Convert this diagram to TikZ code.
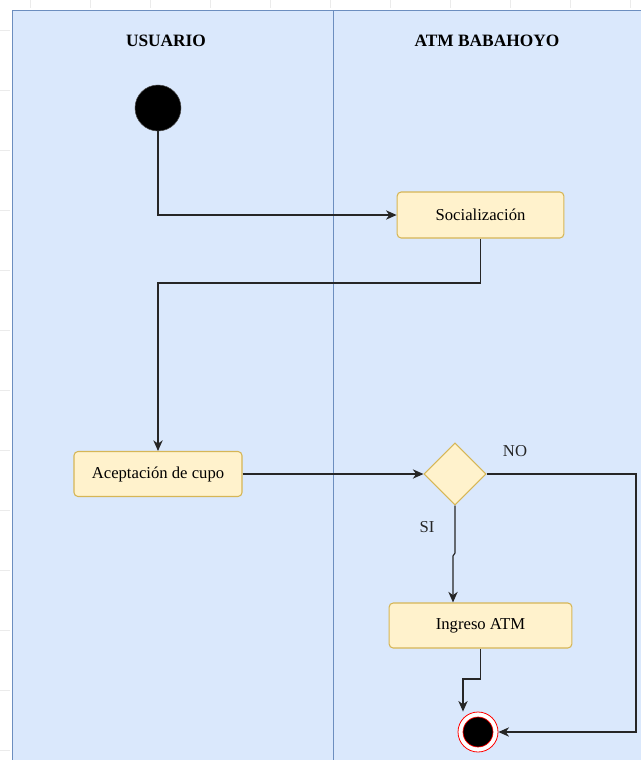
\documentclass[tikz,border=0pt]{standalone}
\usepackage{fontspec}
\setmainfont{Liberation Serif}
\usetikzlibrary{shapes.geometric,arrows.meta}
\definecolor{lanefill}{HTML}{DAE8FC}
\definecolor{lanedraw}{HTML}{6C8EBF}
\definecolor{boxfill}{HTML}{FFF2CC}
\definecolor{boxdraw}{HTML}{D6B656}
\begin{document}
\begin{tikzpicture}[x=0.75pt,y=-0.75pt,
  actbox/.style={draw=boxdraw,fill=boxfill,rounded corners=3pt,line width=0.8pt,font=\fontsize{12.5}{14}\selectfont,inner sep=0pt},
  decis/.style={diamond,draw=boxdraw,fill=boxfill,line width=0.8pt,minimum width=46.5pt,minimum height=46.5pt,inner sep=0pt,aspect=1},
  flow/.style={draw=black!85,line width=0.9pt,-{Stealth[length=8pt,width=7pt,inset=2.5pt]}},
  lbl/.style={font=\fontsize{12.5}{14}\selectfont,text=black!85},
  hdr/.style={font=\bfseries\fontsize{13}{15}\selectfont}]
\useasboundingbox (0,0) rectangle (641,760);
\fill[white] (0,0) rectangle (641,760);
% faint ruler ticks
\foreach \yy in {30,90,150,210,270,330,390,450,510,570,630,690,750}
  \draw[black!8] (0,\yy) -- (10,\yy);
\foreach \xx in {30,90,150,210,270,330,390,450,510,570,630}
  \draw[black!8] (\xx,0) -- (\xx,8);
% pool
\draw[lanedraw,fill=lanefill,line width=0.6pt] (12,10) rectangle (650,770);
\draw[lanedraw,line width=0.6pt] (333,10) -- (333,770);
\node[hdr] (h1) at (166,41) {USUARIO};
\node[hdr] (h2) at (487,41) {ATM BABAHOYO};
% nodes
\node[circle,fill=black,draw=black!70,minimum size=34.5pt,inner sep=0pt] (s) at (158,108) {};
\node[actbox,minimum width=125pt,minimum height=34.5pt] (soc) at (480.5,215) {Socialización};
\node[actbox,minimum width=126pt,minimum height=33.75pt] (acc) at (158,474) {Aceptación de cupo};
\node[decis] (dia) at (455,474) {};
\node[actbox,minimum width=137pt,minimum height=33.75pt] (ing) at (480.5,625.5) {Ingreso ATM};
\node[circle,draw=red,line width=0.6pt,fill=white,minimum size=30pt,inner sep=0pt] (fin) at (478,732) {};
\node[circle,draw=red,line width=0.5pt,fill=black,minimum size=22.5pt,inner sep=0pt] (finin) at (478,732) {};
\node[lbl] (no) at (515,451) {NO};
\node[lbl] (si) at (427,527) {SI};
% coordinates
\coordinate (c1) at (300,283);
\coordinate (j1) at (455,553);
\coordinate (j2) at (453,556);
\coordinate (j3) at (463,679);
\coordinate (c4) at (636,474);
% connectors
\draw[flow] (s.south) |- (soc.west);
\draw[flow] (soc.south) |- (c1) -| (acc.north);
\draw[flow] (acc.east) -- (dia.west);
\draw[flow] (dia.south) -- (j1) -- (j2) -- (j2 |- ing.north);
\draw[flow] (ing.south) |- (j3) -- (j3 |- fin.north);
\draw[flow] (dia.east) -- (c4) |- (fin.east);
\end{tikzpicture}
\end{document}
